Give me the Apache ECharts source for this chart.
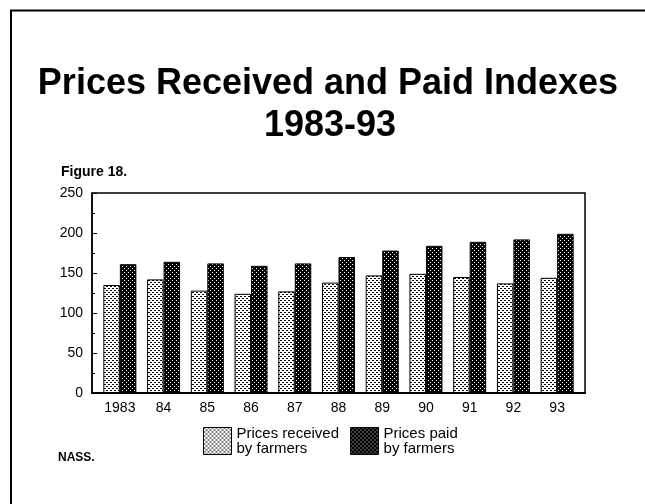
<!DOCTYPE html>
<html>
<head>
<meta charset="utf-8">
<script src="https://cdn.jsdelivr.net/npm/echarts@6/dist/echarts.min.js"></script>
<style>html,body{margin:0;padding:0;background:#fff;}#c{width:645px;height:504px;}</style>
</head>
<body>
<div id="c"></div>
<script>
const categories = ['1983','84','85','86','87','88','89','90','91','92','93'];
const pricesReceived = [135, 142, 128, 124, 127, 138, 147, 149, 145, 137, 144];
const pricesPaid = [161, 164, 162, 159, 162, 170, 178, 184, 189, 192, 199];
const yTicks = [0, 50, 100, 150, 200, 250];

function makeTile(bg, fg, pts) {
  const c = document.createElement('canvas');
  c.width = 4; c.height = 4;
  const g = c.getContext('2d');
  g.fillStyle = bg; g.fillRect(0, 0, 4, 4);
  g.fillStyle = fg;
  pts.forEach(p => g.fillRect(p[0], p[1], 1, 1));
  return c;
}
const lightTile = makeTile('#ffffff', '#000000', [[0,0],[1,0],[2,2],[3,2]]);
const darkTile = makeTile('#000000', '#ffffff', [[0,0],[2,2]]);
const lightFill = { image: lightTile, repeat: 'repeat' };
const darkFill = { image: darkTile, repeat: 'repeat' };

const font = '"Liberation Sans", Arial, sans-serif';
const chart = echarts.init(document.getElementById('c'), null, { renderer: 'canvas' });
chart.setOption({
  backgroundColor: '#ffffff',
  animation: false,
  textStyle: { fontFamily: font },
  grid: [
    { left: 92, right: 60, top: 193, bottom: 111, show: true, borderColor: '#000', borderWidth: 1.5, backgroundColor: 'transparent' },
    { left: 98, right: 66, top: 193, bottom: 111 }
  ],
  legend: {
    left: 203, top: 426, padding: 0, itemWidth: 28, itemHeight: 27, itemGap: 11,
    icon: 'rect',
    textStyle: { fontSize: 15, color: '#000', lineHeight: 15, fontFamily: font },
    data: [
      { name: 'Prices received\nby farmers', itemStyle: { color: lightFill, borderColor: '#000', borderWidth: 1 } },
      { name: 'Prices paid\nby farmers', itemStyle: { color: darkFill, borderColor: '#000', borderWidth: 1 } }
    ]
  },
  xAxis: [
    { type: 'category', gridIndex: 0, data: categories,
      axisLine: { lineStyle: { color: '#000', width: 2 } },
      axisTick: { show: false }, axisLabel: { show: false } },
    { type: 'category', gridIndex: 1, data: categories,
      axisLine: { show: false }, axisTick: { show: false },
      axisLabel: { color: '#000', fontSize: 14, margin: 8, fontFamily: font } }
  ],
  yAxis: [
    { type: 'value', gridIndex: 0, min: 0, max: 250, interval: 50,
      axisLine: { show: true, lineStyle: { color: '#000', width: 1.5 } },
      axisTick: { show: true, inside: true, length: 5, lineStyle: { color: '#000' } },
      minorTick: { show: true, splitNumber: 2, length: 3, lineStyle: { color: '#000' } },
      splitLine: { show: false },
      axisLabel: { color: '#000', fontSize: 14, margin: 9, fontFamily: font,
        formatter: v => yTicks.includes(v) ? String(v) : '' } },
    { type: 'value', gridIndex: 1, min: 0, max: 250, interval: 50, show: false, splitLine: { show: false } }
  ],
  series: [
    { name: 'Prices received\nby farmers', type: 'bar', xAxisIndex: 1, yAxisIndex: 1, data: pricesReceived, barWidth: 16.5, barGap: '0%',
      itemStyle: { color: lightFill, borderColor: '#000', borderWidth: 1 } },
    { name: 'Prices paid\nby farmers', type: 'bar', xAxisIndex: 1, yAxisIndex: 1, data: pricesPaid, barWidth: 16.5, barGap: '0%',
      itemStyle: { color: darkFill, borderColor: '#000', borderWidth: 1 } }
  ],
  graphic: [
    { type: 'line', shape: { x1: 10, y1: 10.5, x2: 645, y2: 10.5 }, style: { stroke: '#000', lineWidth: 2 } },
    { type: 'line', shape: { x1: 11, y1: 10, x2: 11, y2: 504 }, style: { stroke: '#000', lineWidth: 2 } },
    { type: 'text', x: 328, y: 84, style: { text: 'Prices Received and Paid Indexes', font: 'bold 36px ' + font, fill: '#000', textAlign: 'center', textVerticalAlign: 'middle' } },
    { type: 'text', x: 330, y: 126, style: { text: '1983-93', font: 'bold 36px ' + font, fill: '#000', textAlign: 'center', textVerticalAlign: 'middle' } },
    { type: 'text', x: 61, y: 172, style: { text: 'Figure 18.', font: 'bold 14px ' + font, fill: '#000', textAlign: 'left', textVerticalAlign: 'middle' } },
    { type: 'text', x: 58, y: 458, style: { text: 'NASS.', font: 'bold 12px ' + font, fill: '#000', textAlign: 'left', textVerticalAlign: 'middle' } }
  ]
});
</script>
</body>
</html>
